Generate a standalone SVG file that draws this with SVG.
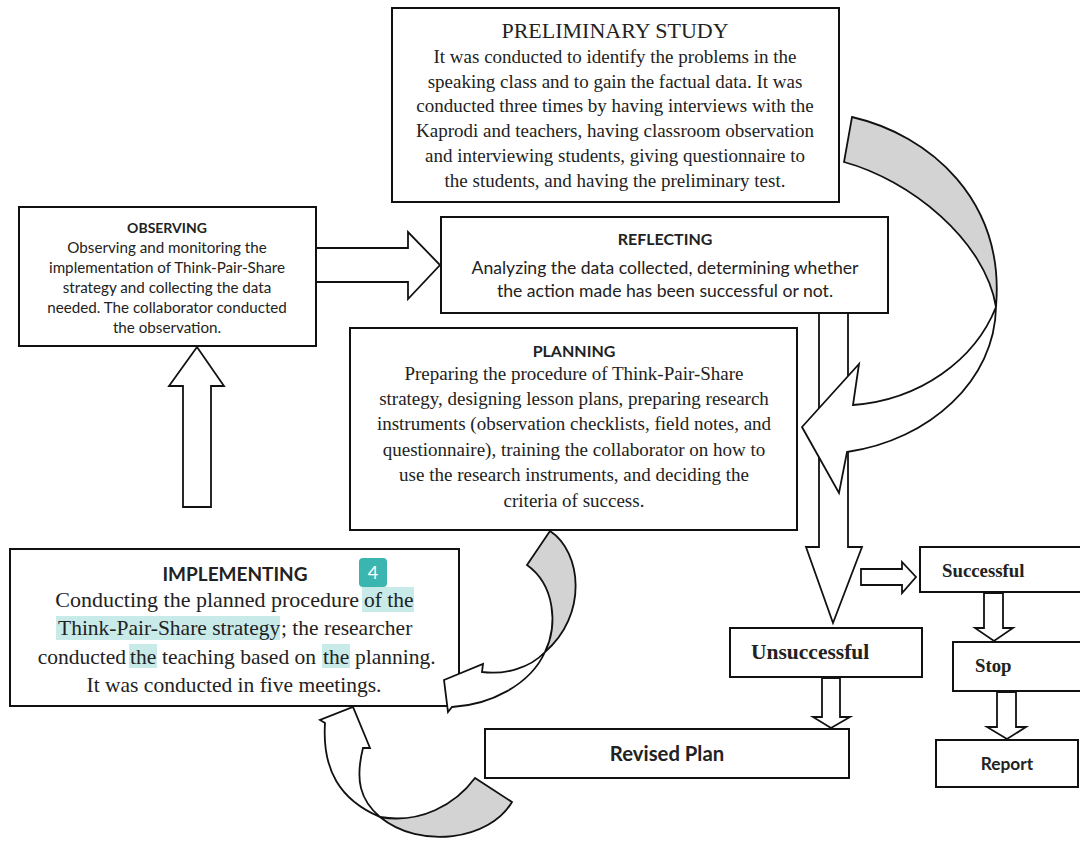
<svg xmlns="http://www.w3.org/2000/svg" width="1080" height="844" viewBox="0 0 1080 844">
<style>
.box{fill:#fff;stroke:#111;stroke-width:2}
.arr{fill:#fff;stroke:#111;stroke-width:1.8;stroke-linejoin:miter}
.gray{fill:#d3d3d3;stroke:#111;stroke-width:1.8}
.serif{font-family:"Liberation Serif","Times New Roman",serif;fill:#222}
.sans{font-family:Lato,"Open Sans",sans-serif;fill:#222}
.hl{fill:#c8ebea}
</style>
<rect width="1080" height="844" fill="#fff"/>
<g id="connectors">
<polygon class="arr" points="316,248 408,248 408,232 440,265 408,299 408,282 316,282"/>
<polygon class="arr" points="183,507 211,507 211,386 224,386 197,347 169,386 183,386"/>
<polygon class="arr" points="819,313 848,313 848,547 862,547 833,623 806,547 819,547"/>
<polygon class="arr" points="861,569 902,569 902,562 916,577 902,593 902,585 861,585"/>
<polygon class="arr" points="984,593 1003,593 1003,628 1013,628 994,641 975,628 984,628"/>
<polygon class="arr" points="997,692 1016,692 1016,727 1026,727 1007,739 987,727 997,727"/>
<polygon class="arr" points="822,678 840,678 840,717 850,717 831,728 813,717 822,717"/>
</g>
<g id="preliminary">
<rect class="box" x="392" y="8" width="447" height="194"/>
<text class="serif" x="615" y="38" font-size="22" text-anchor="middle">PRELIMINARY STUDY</text>
<g class="serif" font-size="19" text-anchor="middle">
<text x="615" y="63">It was conducted to identify the problems in the</text>
<text x="615" y="88">speaking class and to gain the factual data. It was</text>
<text x="615" y="112">conducted three times by having interviews with the</text>
<text x="615" y="137">Kaprodi and teachers, having classroom observation</text>
<text x="615" y="162">and interviewing students, giving questionnaire to</text>
<text x="615" y="187">the students, and having the preliminary test.</text>
</g>
</g>
<g id="observing">
<rect class="box" x="19" y="207" width="297" height="139"/>
<text class="sans" x="167" y="233" font-size="14" font-weight="bold" text-anchor="middle">OBSERVING</text>
<g class="sans" font-size="15.2" text-anchor="middle">
<text x="167" y="253">Observing and monitoring the</text>
<text x="167" y="273">implementation of Think-Pair-Share</text>
<text x="167" y="293">strategy and collecting the data</text>
<text x="167" y="313">needed. The collaborator conducted</text>
<text x="167" y="333">the observation.</text>
</g>
</g>
<g id="reflecting">
<rect class="box" x="441" y="217" width="447" height="96"/>
<text class="sans" x="665" y="245" font-size="16" font-weight="bold" text-anchor="middle">REFLECTING</text>
<g class="sans" font-size="17.6" text-anchor="middle">
<text x="665" y="274">Analyzing the data collected, determining whether</text>
<text x="665" y="297">the action made has been successful or not.</text>
</g>
</g>
<g id="planning">
<rect class="box" x="350" y="328" width="447" height="202"/>
<text class="sans" x="574" y="357" font-size="16" font-weight="bold" text-anchor="middle">PLANNING</text>
<g class="serif" font-size="19" text-anchor="middle">
<text x="574" y="380">Preparing the procedure of Think-Pair-Share</text>
<text x="574" y="405">strategy, designing lesson plans, preparing research</text>
<text x="574" y="430">instruments (observation checklists, field notes, and</text>
<text x="574" y="456">questionnaire), training the collaborator on how to</text>
<text x="574" y="481">use the research instruments, and deciding the</text>
<text x="574" y="507">criteria of success.</text>
</g>
</g>
<g id="implementing">
<rect class="box" x="10" y="549" width="449" height="157"/>
<rect class="hl" x="362" y="587" width="52" height="25"/>
<rect class="hl" x="56" y="616" width="224" height="24"/>
<rect class="hl" x="129" y="644" width="28" height="24"/>
<rect class="hl" x="322" y="644" width="28" height="24"/>
<text class="sans" x="235" y="581" font-size="19" font-weight="bold" text-anchor="middle">IMPLEMENTING</text>
<g class="serif" font-size="21.5">
<text x="359" y="607" text-anchor="end" font-size="22">Conducting the planned procedure</text>
<text x="364" y="607">of the</text>
<text x="58" y="635">Think-Pair-Share strategy</text>
<text x="281" y="635">; the researcher</text>
<text x="126" y="664" text-anchor="end">conducted</text>
<text x="130" y="664">the</text>
<text x="162" y="664">teaching based on</text>
<text x="323" y="664">the</text>
<text x="355" y="664">planning.</text>
<text x="234" y="692" text-anchor="middle">It was conducted in five meetings.</text>
</g>
<rect x="359" y="558" width="28" height="29" rx="4" fill="#3bb5b0"/>
<text x="373" y="579" font-family="Lato,'Open Sans',sans-serif" font-size="18" fill="#fff" text-anchor="middle">4</text>
</g>
<g id="unsuccessful">
<rect class="box" x="730" y="628" width="192" height="49"/>
<text class="serif" x="751" y="659" font-size="21.5" font-weight="bold">Unsuccessful</text>
</g>
<g id="revised-plan">
<rect class="box" x="485" y="729" width="364" height="49"/>
<text class="sans" x="667" y="761" font-size="20.3" font-weight="bold" text-anchor="middle">Revised Plan</text>
</g>
<g id="successful">
<rect class="box" x="920" y="547" width="170" height="45"/>
<text class="serif" x="942" y="577" font-size="18.8" font-weight="bold">Successful</text>
</g>
<g id="stop">
<rect class="box" x="953" y="642" width="140" height="49"/>
<text class="serif" x="975" y="672" font-size="18.8" font-weight="bold">Stop</text>
</g>
<g id="report">
<rect class="box" x="936" y="740" width="142" height="47"/>
<text class="sans" x="1007" y="770" font-size="17.3" font-weight="bold" text-anchor="middle">Report</text>
</g>
<g id="curved-connectors">
<path class="gray" d="M852,117 C930,135 1005,200 996,307 C985,240 910,180 844,162 Z"/>
<path class="arr" d="M996,307 C975,360 920,400 853,405 L859,364 L802,427 L839,493 L847,452 C930,440 995,380 996,307 Z"/>
<path class="gray" d="M550,531 C582,552 588,615 545,652 C558,625 555,585 527,565 Z"/>
<path class="arr" d="M545,652 C530,668 505,675 482,672 L483,664 L444,680 L448,712 L452,707 C490,705 530,685 545,652 Z"/>
<path class="gray" d="M380,817 C420,824 455,805 475,778 L512,802 C490,840 420,850 380,817 Z"/>
<path class="arr" d="M380,817 C340,800 322,770 325,723 L320,720 L353,707 L370,748 L363,748 C355,780 360,800 380,817 Z"/>
</g>
</svg>
